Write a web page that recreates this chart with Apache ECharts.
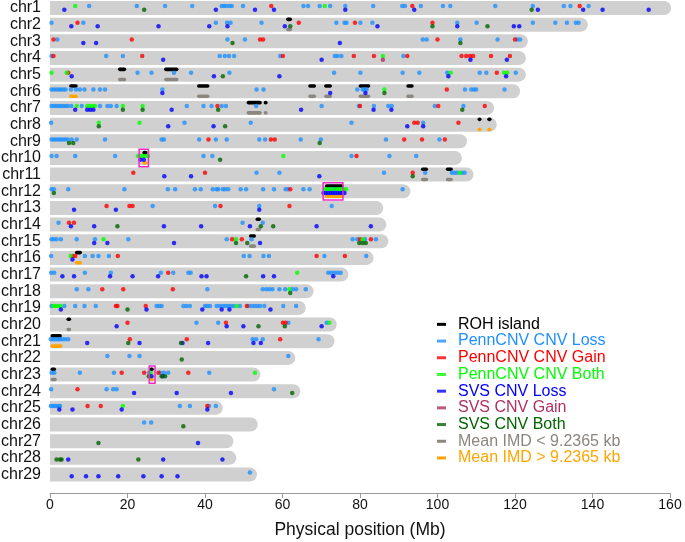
<!DOCTYPE html>
<html><head><meta charset="utf-8">
<script src="https://cdn.jsdelivr.net/npm/echarts@6/dist/echarts.min.js"></script>
<style>html,body{margin:0;padding:0;background:#fff}#c{width:685px;height:542px}</style>
</head><body><div id="c"></div><script>
// chromosome lengths (Mb)
const chrLengths = [158.5,137,121.5,121,121,119.5,112.8,113.5,105.8,104.5,107.5,91.2,84.2,85,85.5,81.7,75.2,66.2,64.2,72.2,71.6,61.5,52.5,62.8,42.8,51.8,45.5,46.3,51.6];
const chrNames = chrLengths.map((_, i) => 'chr' + (i + 1));
const xTicks = [0,20,40,60,80,100,120,140,160];

// positions (Mb) per chromosome, index 0 = chr1
const pennLoss = [
 [10.1,22.4,29.7,36.7,44.3,44.9,45.5,46.3,46.9,49.8,65.4,66.6,69.6,72.3,76.2,83.4,90.9,91.6,95.7,101.4,103.3,114.9,124.6,132.6,134.3,139],
 [0.4,8.6,42.8,45.7,46.6,54.6,73.9,76,76.5,80.1,83.2,105.1,110.1,124.6,130.4,133.4,135.7,136.4],
 [1.9,45.8,50.3,96.2,97.2,105.9,115.5,120.6,121.3],
 [0.4,14.5,18.8,43.8,45.1,46.2,47.5,59.4,73.5,74.2,75.2,91.2],
 [22.6,26.2,32,36.4,46.3,73.3,80.1,91,95.3,102.5,110.9,112.6,120.2],
 [0.4,1,1.6,2.2,2.8,3.4,4,5.4,6.7,7.7,8.9,11.2,12.9,14.2,29,53.3,55.1,79.3,80.7,81.2,81.7,107.1,108.7,109.4,110,117.3],
 [0.4,1,1.6,2.2,2.8,3.4,4,4.6,5.5,8.2,12.9,14.8,15.7,17.2,35.3,39.6,41.7,44.3,45.4,53.2,70.1,79.7,83.6,87.3,88.2,99.3,106.7],
 [0.3,34.7,51.8,77.8,96.3],
 [0.4,1,1.6,2.2,2.8,3.4,4,4.6,5.6,6.9,14.2,28.8,29.4,38.5,42.8,45.6,54,55.5,64.7,69.9,86.7,100.5],
 [0.4,1.7,6.5,16.8,39.6,41.9,77.8,87.6,94.5],
 [53.3,59.2,86.2,96.8,103.7,104.4,105.1,106.3,107],
 [0.4,1,4.7,19.2,30.4,32.3,37.4,38.9,42,43,43.4,44.6,45.2,46,49.2,50.6,55,57.8,60.8,61.4,65.4,67,72.4,73.4,91],
 [26.5,42.6,54,72.7],
 [2.2,49.7,54.9],
 [0.4,1,1.7,2.8,6.9,11.6,20.2,45.6,52,78.1,79.3,81.3,84.1],
 [0.3,9,11,12.5,15.2,50,51.5,55.1,56.5,70.8,81.6],
 [0.3,1.1,9,15.7,28.6,31.8,35.7,36.3,71.8,72.6,73.4,74.2,75],
 [6.9,9.9,40.6,54.9,55.8,56.6,57.4,59.2,60.7,62.6,63.5,66],
 [0.4,3.7,6.5,8.9,11.8,27.5,28.2,28.8,34.4,35.2,36.1,40,40.6,41.3,43,43.8,44.6,45.3,46,46.7,47.4,49,51.2,52,52.8,53.5,54.2,55.3,60.2,63.5],
 [37.8,43.4,61.5,71.4],
 [0.2,0.8,1.4,2,2.6,3.2,3.9,4.7,52.3,53.2,54.9,69.3],
 [14.8,20.5,23.1,61.5],
 [0.4,1.1,7.7,16.5,25.6,28.4,29.4,30.5,41.1],
 [0.3,14.6,16.3,17.2,57.8],
 [0.2,0.7,1.2,1.7,2.2,2.6,33.5,36.1,41,42.8],
 [24.3,26.1],
 [],
 [],
 [51.6]
];
const pennGain = [
 [57.1,93.5,136.7],[7.1,64.2,78.7,98.7],[0.9,21.1,54.2,55,100,120],
 [0.9,23.8,60.1,78.4,83.6,92.2,106.2,107.4,108.4,109.2,113.8,118.7],
 [4.7,115.3],[102.4],[43.2,80,100.2,112.2],[94,94.9,105.4],[40.9,57,58,91.4,96,101.9],
 [79.1],[21.5,40,93.6],[62],[14.6,20.5,21.3,44,61.8],[4.9,6.2],[47,49.5,80,82.8],
 [5.8,6.5,17.5,68.8,76.1],[30.5],[13.5,18.9,31.7],[17,17.4,24.7,50.8],[20,45.4,60.1,60.8],
 [20.6,35.3,59.4],[],[18.5,24.3,28,35.7],[7.1],[9.7,13.1,40.6],[],[],[],[]
];
const pennBoth = [
 [6.5,70.9],[],[],[85.9],[0.4,4.3,103.4,117.2,118],[86.3],[6.9,9.6,10.3,11,11.6,18.8,23.9],
 [12.6,23.1],[],[22.7,23.3,24,24.6,25.3,60.2],[105.8],[71,71.6,72.2,73,74,74.6,75.2,75.8,76.4],
 [],[],[13.8,48,80.7],[5.3],[63.8],[61.8],[0.9,1.5,2.1,2.7,48.2],[72.1],[],[],[26,52.9],[],[18.8],[],[],[],[]
];
const svsLoss = [
 [3.7,42.8,52.9,57.8,76.2,94,125.9,137.6,142.6,154.5],
 [5.5,12.3,28,41.1,45.8,60.6,84.5,105.1,119.7,121.1],
 [8.6,11.9,74.8],[29.2,70.1,108.5,117.9],[5.6,42.3,59.2,102.8,117.7],[29,72.3,81.4],
 [6.5,9.6,10.4,11.2,31.4,64.8,83.5,88.1],[30.5,42.2,92.2,96.3],[],[23.3,24.2],[29.5,36.4,69.5],
 [70.6,71.2,71.8,72.4,73,73.6,74.2,74.8,75.4,76],[6.2,17,54],[5.4,11.4,29.4,39,51.6,68.8,82.8],
 [11.4,14.8,32,54.2],[5.8],[3.2,6.2,15.5,21.3,27.9,39.1,40.4,55,57.8,73.1],[],
 [2.8,24.9,39.3,44.3,46.3,56.9],[17.2,45.6,49.9,70.1],[9.6,23.1,34.2,40.8,52.5,54.4],[],
 [26.2,29.1],[21.7,32.7,46.7],[2.4,5.8,18.5,40.6],[],[38.2],[4.7,29.2,44.5],
 [5.6,9.3,12.5,17.6,24.1,28.8,32.9]
];
const svsGain = [[],[],[],[85.9],[],[],[],[],[],[],[],[],[],[],[],[],[],[],[],[],[],[],[],[],[],[],[],[],[]];
const svsBoth = [
 [24.3,124.3],[62,98.7,112.9],[47.1,105.9],[],[44.6],[86.3],[18.8,23.9,43.4,106.4],[12.6,45.2],
 [4.9,6,69.6],[43.9],[93.6],[1],[],[17.4,54.4,57.6],[48,50.9,79.8,80.7,81.5],[],[50.6],[62],[20],
 [53.8,60.6],[20.2,33.8],[34],[25.5,28.8,29.7],[62.5],[],[34.4],[12.5],[1.7,2.6,3,22.8],[]
];
// segments: [chromosome number, start Mb, end Mb]
const rohIslands = [[2,61.4,62],[5,18,19.2],[5,29.9,32.7],[6,5.4,6.7],[6,38.4,40.7],[6,67.1,68.2],[6,71.2,72.3],[6,80.1,82.2],[6,92.4,93.4],[7,51.2,54.2],[7,55.6,55.7],[8,110.8,110.9],[8,113.3,113.5],[10,24.3,24.7],[11,96.2,97.1],[11,102.6,103.5],[12,71.4,75.3],[14,53.5,54],[15,51.8,52.7],[16,6.9,7.8],[20,4.7,5],[21,0.6,2.6],[23,0.6,1.1],[23,26.1,26.3]];
const imdLow = [[2,61.4,62],[5,18,19.2],[5,29.9,32.7],[6,38.4,40.7],[6,67.1,68.2],[6,71.2,72.3],[6,80.1,82.2],[6,92.4,93.4],[7,51.2,54.2],[7,55.6,55.7],[11,96.2,97.1],[11,102.6,103.5],[14,53.5,54],[15,51.8,52.7],[20,4.7,5],[23,0.6,1.3]];
const imdHigh = [[6,5.4,6.7],[8,110.8,110.9],[8,113.3,113.5],[10,24.3,24.7],[12,71.4,75.3],[16,6.9,7.8],[21,0.6,2.8],[23,26.1,26.3]];
const highlightBoxes = [[10,23,25.4],[12,70.5,75.6],[23,25.6,27.1]];

const legendNames = ['ROH island','PennCNV CNV Loss','PennCNV CNV Gain','PennCNV CNV Both','SVS CNV Loss','SVS CNV Gain','SVS CNV Both','Mean IMD < 9.2365 kb','Mean IMD > 9.2365 kb'];
const colors = ['#000000','#1E90FF','#FF0000','#00FF00','#0000FF','#B03060','#006400','#8B8680','#FFA500'];

const FONT = 'Liberation Sans, Arial, Helvetica, sans-serif';
const toPoints = arr => arr.flatMap((list, i) => list.map(p => [p, i + 1]));

function segSeries(name, data, color, off, width) {
  return {
    name, type: 'custom', data, z: 3, silent: true,
    itemStyle: { color },
    encode: { x: [1, 2], y: 0 },
    renderItem(params, api) {
      const c = api.value(0);
      const s = api.coord([api.value(1), c]);
      const e = api.coord([api.value(2), c]);
      return { type: 'line', shape: { x1: s[0], y1: s[1] + off, x2: e[0], y2: e[1] + off },
        style: { stroke: color, lineWidth: width, lineCap: 'round' } };
    }
  };
}
function dotSeries(name, arr, color, off) {
  return { name, type: 'scatter', data: toPoints(arr), symbol: 'circle', symbolSize: 4.5,
    symbolOffset: [0, off], itemStyle: { color }, clip: false, silent: true, z: 5 };
}

const chart = echarts.init(document.getElementById('c'), null, { renderer: 'canvas' });
chart.setOption({
  animation: false,
  grid: { left: 50, right: 15, top: 8, bottom: 67.5, containLabel: false, outerBoundsMode: 'none' },
  xAxis: {
    type: 'value', min: 0, max: 160, interval: 20, offset: 18.5,
    axisLine: { lineStyle: { color: '#9a9a9a', width: 1 } },
    axisTick: { length: 5, lineStyle: { color: '#9a9a9a' } },
    splitLine: { show: false },
    axisLabel: { fontSize: 14, color: '#111', margin: 5, fontFamily: FONT,
      formatter: v => xTicks.includes(v) ? String(v) : '' },
    name: 'Physical position (Mb)', nameLocation: 'middle', nameGap: 28,
    nameTextStyle: { fontSize: 17.5, color: '#111', fontFamily: FONT }
  },
  yAxis: {
    type: 'value', min: 1, max: 29, interval: 1, inverse: true,
    axisLine: { show: false }, axisTick: { show: false }, splitLine: { show: false },
    axisLabel: { fontSize: 16, color: '#111', margin: 9, fontFamily: FONT,
      formatter: v => chrNames[v - 1] || '' }
  },
  legend: {
    orient: 'vertical', left: 437, top: 316, padding: 0, itemGap: 0,
    itemWidth: 9, itemHeight: 3, icon: 'rect', selectedMode: false,
    data: legendNames.map((n, i) => ({ name: n, textStyle: { color: colors[i] } })),
    textStyle: { fontSize: 16, lineHeight: 16.7, fontFamily: FONT, padding: [0, 0, 0, 7] }
  },
  series: [
    {
      name: 'chromosomes', type: 'custom', z: 1, silent: true,
      data: chrLengths.map((len, i) => [i + 1, len]),
      encode: { x: 1, y: 0 },
      renderItem(params, api) {
        const c = api.value(0);
        const s = api.coord([0, c]);
        const e = api.coord([api.value(1), c]);
        return { type: 'rect', shape: { x: s[0], y: s[1] - 7, width: e[0] - s[0] + 7, height: 14, r: [0, 7, 7, 0] },
          style: { fill: '#D0D0D0' } };
      }
    },
    segSeries(legendNames[7], imdLow, colors[7], 4.9, 3.6),
    segSeries(legendNames[8], imdHigh, colors[8], 4.9, 3.6),
    segSeries(legendNames[0], rohIslands, colors[0], -5.3, 3.6),
    dotSeries(legendNames[1], pennLoss, colors[1], -1.9),
    dotSeries(legendNames[2], pennGain, colors[2], -1.9),
    dotSeries(legendNames[3], pennBoth, colors[3], -1.9),
    dotSeries(legendNames[4], svsLoss, colors[4], 1.7),
    dotSeries(legendNames[5], svsGain, colors[5], 1.7),
    dotSeries(legendNames[6], svsBoth, colors[6], 1.7),
    {
      name: 'boxes', type: 'custom', z: 6, silent: true, data: highlightBoxes,
      encode: { x: [1, 2], y: 0 },
      renderItem(params, api) {
        const c = api.value(0);
        const s = api.coord([api.value(1), c]);
        const e = api.coord([api.value(2), c]);
        return { type: 'rect', shape: { x: s[0], y: s[1] - 8.6, width: e[0] - s[0], height: 17.3 },
          style: { fill: 'none', stroke: '#F02CC8', lineWidth: 1.5 } };
      }
    }
  ]
});
</script></body></html>
